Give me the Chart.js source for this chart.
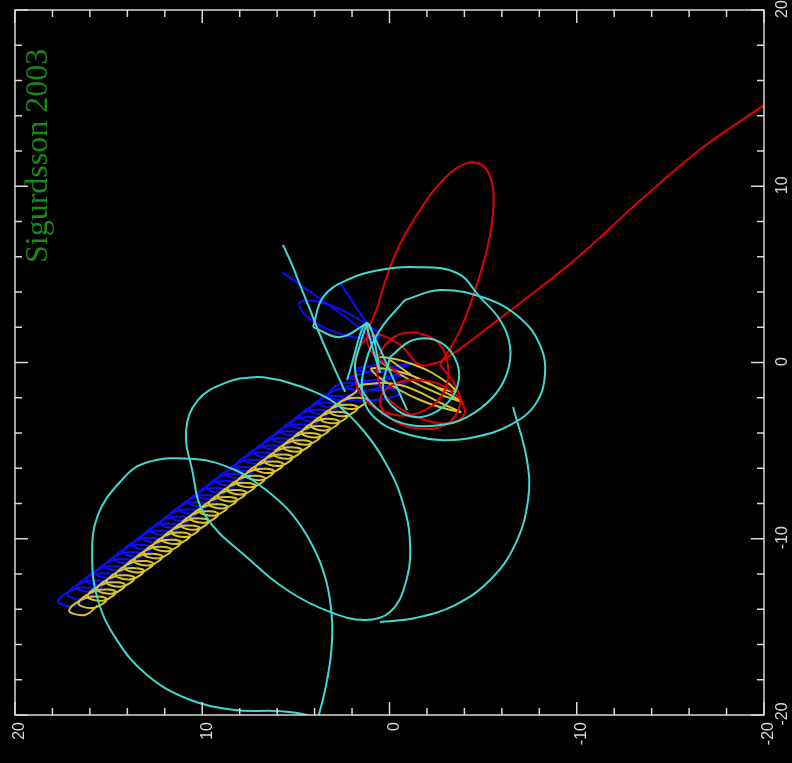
<!DOCTYPE html>
<html>
<head>
<meta charset="utf-8">
<title>Sigurdsson 2003</title>
<script src="https://cdn.jsdelivr.net/npm/chart.js@4/dist/chart.umd.min.js"></script>
<style>
  html, body { margin: 0; padding: 0; background: #000; }
  canvas { display: block; }
</style>
</head>
<body>
<canvas id="orbits" width="792" height="763"></canvas>
<script>
// Axis ticks (both axes run from +20 to -20)
const xTickLabels = [20, 10, 0, -10, -20];
const yTickLabels = [20, 10, 0, -10, -20];
const minorStep = 2;
const titleText = 'Sigurdsson 2003';

// ---- Red body: loops near the origin, a long excursion, then escape ----
const redExcursion = [[-0.56,-0.71],[1.15,0.99],[0.61,3.26],[-0.29,6.10],[-1.63,8.65],[-2.96,10.47],[-4.10,11.30],[-4.95,11.20],[-5.45,10.30],[-5.55,8.80],[-5.26,6.67],[-4.57,4.11],[-3.77,1.84],[-2.70,-0.14]];
const redCore = [[-2.70,-0.14],[-3.50,-1.28],[-3.77,-2.41],[-2.96,-3.55],[-1.36,-3.72],[-0.03,-3.15],[0.51,-2.13],[-0.13,-1.28],[-1.63,-0.99],[-3.23,-1.56],[-4.03,-2.70],[-3.50,-3.38],[-1.90,-3.26],[-0.30,-2.41],[0.51,-1.28],[0.62,0.14],[-0.03,1.28],[-1.10,1.70],[-2.43,1.28],[-3.07,0.14],[-2.96,-1.56],[-1.90,-2.70],[-0.30,-2.98],[1.31,-2.13],[1.84,-0.71],[1.68,0.71],[0.78,1.56],[-0.56,1.00],[-1.63,-0.14],[-2.70,0.03]];
const redEscape = [[-2.70,0.03],[-3.8,0.8],[-5.4,2.1],[-7.5,3.8],[-10.2,6.1],[-13.4,9.2],[-16.6,12.1],[-20.0,14.6],[-21.4,15.6]];

// ---- Cyan body: wide loops ----
const cyanTrack = [[5.69,6.67],[5.20,5.54],[4.78,4.40],[4.24,2.98],[3.71,1.56],[3.02,-0.14],[2.37,-1.67]];
const cyanMiddle = [[5.85,-0.99],[4.24,-1.56],[2.91,-2.30],[1.42,-3.83],[0.24,-5.64],[-0.67,-7.80],[-1.10,-10.35],[-0.83,-12.62],[-0.03,-14.15],[1.31,-14.61],[3.18,-14.15],[5.31,-13.02],[7.45,-11.21],[9.86,-8.65],[10.54,-6.10],[10.86,-3.83],[10.23,-2.13],[8.78,-1.16],[7.18,-0.83],[5.85,-0.99]];
const cyanOuter = [[3.82,-20.18],[3.44,-18.58],[3.13,-16.59],[3.07,-14.61],[3.39,-12.34],[4.13,-10.35],[5.31,-8.48],[6.80,-7.07],[8.25,-6.10],[10.38,-5.48],[13.06,-5.70],[14.39,-6.78],[15.57,-8.65],[15.88,-10.92],[15.57,-13.48],[14.56,-15.75],[12.95,-17.73],[10.76,-19.09],[8.25,-19.72],[5.85,-19.78],[4.24,-20.06],[3.71,-20.57]];
const cyanLoopB = [[4.08,2.01],[3.55,3.71],[2.27,4.68],[0.51,5.25],[-1.26,5.42],[-3.60,5.08],[-4.83,3.71],[-5.90,2.41],[-6.44,0.88],[-6.28,-0.60],[-5.53,-1.96],[-4.14,-3.10],[-2.70,-3.55],[-1.10,-3.55],[0.24,-2.98],[1.31,-1.84],[1.84,-0.43],[1.58,0.99],[1.20,2.24]];
const cyanLoopC = [[-0.83,3.55],[-2.70,4.11],[-5.10,3.66],[-6.97,2.53],[-8.04,0.99],[-8.30,-0.71],[-7.77,-2.41],[-6.44,-3.55],[-4.56,-4.23],[-2.70,-4.40],[-0.56,-3.94],[0.78,-3.15],[1.42,-1.96],[1.31,-0.14],[0.51,1.84],[-0.83,3.55]];
const cyanLoopD = [[-0.03,0.31],[-1.26,1.28],[-2.70,1.16],[-3.61,-0.03],[-3.61,-1.39],[-2.86,-2.53],[-1.63,-3.10],[-0.40,-2.70],[0.34,-1.56],[-0.03,0.31]];
const cyanSweep = [[-6.60,-2.53],[-7.34,-5.53],[-7.40,-7.80],[-6.70,-10.35],[-5.37,-12.34],[-3.50,-13.76],[-1.36,-14.50],[0.51,-14.72]];
const cyanSpokes = [[2.27,-0.99],[1.20,2.24],[0.51,-0.60],[1.20,2.24],[-0.94,-2.70]];
const cyanWave = [[4.08,2.01],[2.64,1.44],[1.20,2.24]];

// ---- Blue body: coil from the lower left, then the core ----
const blueCoil = [
  [16.19,-13.30],[16.86,-13.81],[17.70,-13.56],[16.79,-12.84],
  [15.69,-12.90],[16.36,-13.41],[17.20,-13.16],[16.29,-12.44],
  [15.20,-12.49],[15.87,-13.00],[16.71,-12.75],[15.80,-12.03],
  [14.70,-12.09],[15.37,-12.60],[16.21,-12.35],[15.30,-11.63],
  [14.20,-11.69],[14.87,-12.20],[15.71,-11.95],[14.80,-11.23],
  [13.70,-11.28],[14.37,-11.79],[15.21,-11.54],[14.30,-10.82],
  [13.21,-10.88],[13.88,-11.39],[14.72,-11.14],[13.81,-10.42],
  [12.71,-10.48],[13.38,-10.99],[14.22,-10.74],[13.31,-10.02],
  [12.21,-10.08],[12.88,-10.59],[13.72,-10.34],[12.81,-9.62],
  [11.72,-9.67],[12.39,-10.18],[13.23,-9.93],[12.32,-9.21],
  [11.22,-9.27],[11.89,-9.78],[12.73,-9.53],[11.82,-8.81],
  [10.72,-8.87],[11.39,-9.38],[12.23,-9.13],[11.32,-8.41],
  [10.23,-8.46],[10.90,-8.97],[11.74,-8.72],[10.83,-8.00],
  [9.73,-8.06],[10.40,-8.57],[11.24,-8.32],[10.33,-7.60],
  [9.23,-7.66],[9.90,-8.17],[10.74,-7.92],[9.83,-7.20],
  [8.73,-7.25],[9.40,-7.76],[10.24,-7.51],[9.33,-6.79],
  [8.24,-6.85],[8.91,-7.36],[9.75,-7.11],[8.84,-6.39],
  [7.74,-6.45],[8.41,-6.96],[9.25,-6.71],[8.34,-5.99],
  [7.24,-6.05],[7.91,-6.56],[8.75,-6.31],[7.84,-5.59],
  [6.75,-5.64],[7.42,-6.15],[8.26,-5.90],[7.35,-5.18],
  [6.25,-5.24],[6.92,-5.75],[7.76,-5.50],[6.85,-4.78],
  [5.75,-4.84],[6.42,-5.35],[7.26,-5.10],[6.35,-4.38],
  [5.26,-4.43],[5.93,-4.94],[6.77,-4.69],[5.86,-3.97],
  [4.76,-4.03],[5.43,-4.54],[6.27,-4.29],[5.36,-3.57],
  [4.26,-3.63],[4.93,-4.14],[5.77,-3.89],[4.86,-3.17],
  [3.76,-3.22],[4.43,-3.73],[5.27,-3.48],[4.36,-2.76],
  [3.27,-2.82],[3.94,-3.33],[4.78,-3.08],[3.87,-2.36],
  [2.77,-2.42],[3.44,-2.93],[4.28,-2.68],[3.37,-1.96],
  [2.27,-2.02],[2.94,-2.53],[3.78,-2.28],[2.87,-1.56],
  [1.78,-1.61],[2.45,-2.12],[3.29,-1.87],[2.38,-1.15],
  [-0.67,-1.67],[0.78,-2.13],[2.54,-2.02],[1.04,-1.56],
  [-0.88,-1.10],[0.56,-1.56],[2.32,-1.44],[0.83,-0.99],
  [-1.10,-0.55],[0.35,-0.99],[2.11,-0.88],[0.62,-0.43],
  [-1.20,-0.03],[0.14,-0.49],[1.84,-0.37],[0.35,0.09],
  [1.04,1.44],[5.74,5.14]
];
const blueHook = [[2.64,4.51],[1.20,2.24],[0.51,1.52],[1.58,1.39],[3.18,1.84],[4.51,2.70],[4.78,3.43],[3.71,3.43],[2.11,2.75],[0.94,1.95]];

// ---- Yellow body: companion coil, then the core ----
const yellowCoil = [
  [15.60,-13.81],[16.27,-14.32],[17.11,-14.07],[16.20,-13.35],
  [15.10,-13.41],[15.77,-13.92],[16.61,-13.67],[15.70,-12.95],
  [14.61,-13.00],[15.28,-13.51],[16.12,-13.26],[15.21,-12.54],
  [14.11,-12.60],[14.78,-13.11],[15.62,-12.86],[14.71,-12.14],
  [13.61,-12.20],[14.28,-12.71],[15.12,-12.46],[14.21,-11.74],
  [13.11,-11.79],[13.78,-12.30],[14.62,-12.05],[13.71,-11.33],
  [12.62,-11.39],[13.29,-11.90],[14.13,-11.65],[13.22,-10.93],
  [12.12,-10.99],[12.79,-11.50],[13.63,-11.25],[12.72,-10.53],
  [11.62,-10.59],[12.29,-11.10],[13.13,-10.85],[12.22,-10.13],
  [11.13,-10.18],[11.80,-10.69],[12.64,-10.44],[11.73,-9.72],
  [10.63,-9.78],[11.30,-10.29],[12.14,-10.04],[11.23,-9.32],
  [10.13,-9.38],[10.80,-9.89],[11.64,-9.64],[10.73,-8.92],
  [9.64,-8.97],[10.31,-9.48],[11.15,-9.23],[10.24,-8.51],
  [9.14,-8.57],[9.81,-9.08],[10.65,-8.83],[9.74,-8.11],
  [8.64,-8.17],[9.31,-8.68],[10.15,-8.43],[9.24,-7.71],
  [8.14,-7.76],[8.81,-8.27],[9.65,-8.02],[8.74,-7.30],
  [7.65,-7.36],[8.32,-7.87],[9.16,-7.62],[8.25,-6.90],
  [7.15,-6.96],[7.82,-7.47],[8.66,-7.22],[7.75,-6.50],
  [6.65,-6.56],[7.32,-7.07],[8.16,-6.82],[7.25,-6.10],
  [6.16,-6.15],[6.83,-6.66],[7.67,-6.41],[6.76,-5.69],
  [5.66,-5.75],[6.33,-6.26],[7.17,-6.01],[6.26,-5.29],
  [5.16,-5.35],[5.83,-5.86],[6.67,-5.61],[5.76,-4.89],
  [4.67,-4.94],[5.34,-5.45],[6.18,-5.20],[5.27,-4.48],
  [4.17,-4.54],[4.84,-5.05],[5.68,-4.80],[4.77,-4.08],
  [3.67,-4.14],[4.34,-4.65],[5.18,-4.40],[4.27,-3.68],
  [3.17,-3.73],[3.84,-4.24],[4.68,-3.99],[3.77,-3.27],
  [2.68,-3.33],[3.35,-3.84],[4.19,-3.59],[3.28,-2.87],
  [2.18,-2.93],[2.85,-3.44],[3.69,-3.19],[2.78,-2.47],
  [1.68,-2.53],[2.35,-3.04],[3.19,-2.79],[2.28,-2.07],
  [1.19,-2.12],[1.86,-2.63],[2.70,-2.38],[1.79,-1.66],
  [1.58,-1.28],[-0.56,-1.28],[-2.96,-2.41],[-3.77,-2.81],[-1.63,-2.13],[0.51,-0.88],
  [0.94,-0.32],[-1.10,-0.71],[-3.23,-1.84],[-3.87,-2.24],[-1.90,-1.44],[0.24,-0.14],
  [0.62,0.31],[-1.36,-0.14],[-3.12,-1.16],[-3.50,-1.67],[-1.63,-0.99],[-0.03,0.14]
];

const RED = '#e00000';
const CYAN = '#40d8d0';
const BLUE = '#0c0cff';
const YELLOW = '#d8c428';

function series(points, color, width) {
  return {
    data: points.map(p => ({ x: p[0], y: p[1] })),
    borderColor: color,
    backgroundColor: color,
    borderWidth: width,
    showLine: true,
    pointRadius: 0,
    tension: 0.4,
    fill: false
  };
}

// Frame, inward ticks, rotated tick labels and the rotated title
const framePlugin = {
  id: 'frame',
  beforeDraw(chart) {
    const ctx = chart.ctx;
    ctx.save();
    ctx.fillStyle = '#000';
    ctx.fillRect(0, 0, chart.width, chart.height);
    ctx.restore();
  },
  afterDraw(chart) {
    const { ctx, chartArea: a, scales } = chart;
    const xs = scales.x, ys = scales.y;
    ctx.save();
    ctx.strokeStyle = '#d8d8d8';
    ctx.lineWidth = 1.5;
    ctx.strokeRect(a.left, a.top, a.right - a.left, a.bottom - a.top);
    ctx.beginPath();
    for (let v = -20; v <= 20; v += minorStep) {
      const len = (v % 10 === 0) ? 13 : 7;
      const px = xs.getPixelForValue(v);
      const py = ys.getPixelForValue(v);
      ctx.moveTo(px, a.bottom); ctx.lineTo(px, a.bottom - len);
      ctx.moveTo(px, a.top); ctx.lineTo(px, a.top + len);
      ctx.moveTo(a.left, py); ctx.lineTo(a.left + len, py);
      ctx.moveTo(a.right, py); ctx.lineTo(a.right - len, py);
    }
    ctx.stroke();

    ctx.fillStyle = '#d8d8d8';
    ctx.font = '16px "Liberation Sans", Arial, sans-serif';
    xTickLabels.forEach(v => {
      ctx.save();
      ctx.translate(xs.getPixelForValue(v) + 5, a.bottom + 7);
      ctx.rotate(-Math.PI / 2);
      ctx.textAlign = 'right';
      ctx.textBaseline = 'middle';
      ctx.fillText(String(v), 0, 0);
      ctx.restore();
    });
    yTickLabels.forEach(v => {
      ctx.save();
      ctx.translate(a.right + 19, ys.getPixelForValue(v) - 1);
      ctx.rotate(-Math.PI / 2);
      ctx.textAlign = 'center';
      ctx.textBaseline = 'middle';
      ctx.fillText(String(v), 0, 0);
      ctx.restore();
    });

    ctx.save();
    ctx.fillStyle = '#188a18';
    ctx.font = '32px "Liberation Serif", "Times New Roman", serif';
    ctx.translate(47, 263);
    ctx.rotate(-Math.PI / 2);
    ctx.textAlign = 'left';
    ctx.textBaseline = 'alphabetic';
    ctx.fillText(titleText, 0, 0);
    ctx.restore();
    ctx.restore();
  }
};

new Chart(document.getElementById('orbits'), {
  type: 'scatter',
  data: {
    datasets: [
      series(cyanTrack, CYAN, 2),
      series(cyanMiddle, CYAN, 2),
      series(cyanOuter, CYAN, 2),
      series(cyanLoopB, CYAN, 2),
      series(cyanLoopC, CYAN, 2),
      series(cyanLoopD, CYAN, 2),
      series(cyanSweep, CYAN, 2),
      series(cyanSpokes, CYAN, 2),
      series(cyanWave, CYAN, 2),
      series(redExcursion, RED, 2),
      series(redCore, RED, 2),
      series(redEscape, RED, 2),
      series(yellowCoil, YELLOW, 2),
      series(blueCoil, BLUE, 2),
      series(blueHook, BLUE, 2)
    ]
  },
  options: {
    responsive: false,
    animation: false,
    layout: { padding: { left: 15, top: 10, right: 28, bottom: 48 } },
    plugins: { legend: { display: false }, tooltip: { enabled: false } },
    scales: {
      x: { type: 'linear', min: -20, max: 20, reverse: true, display: false },
      y: { type: 'linear', min: -20, max: 20, display: false }
    }
  },
  plugins: [framePlugin]
});
</script>
</body>
</html>
